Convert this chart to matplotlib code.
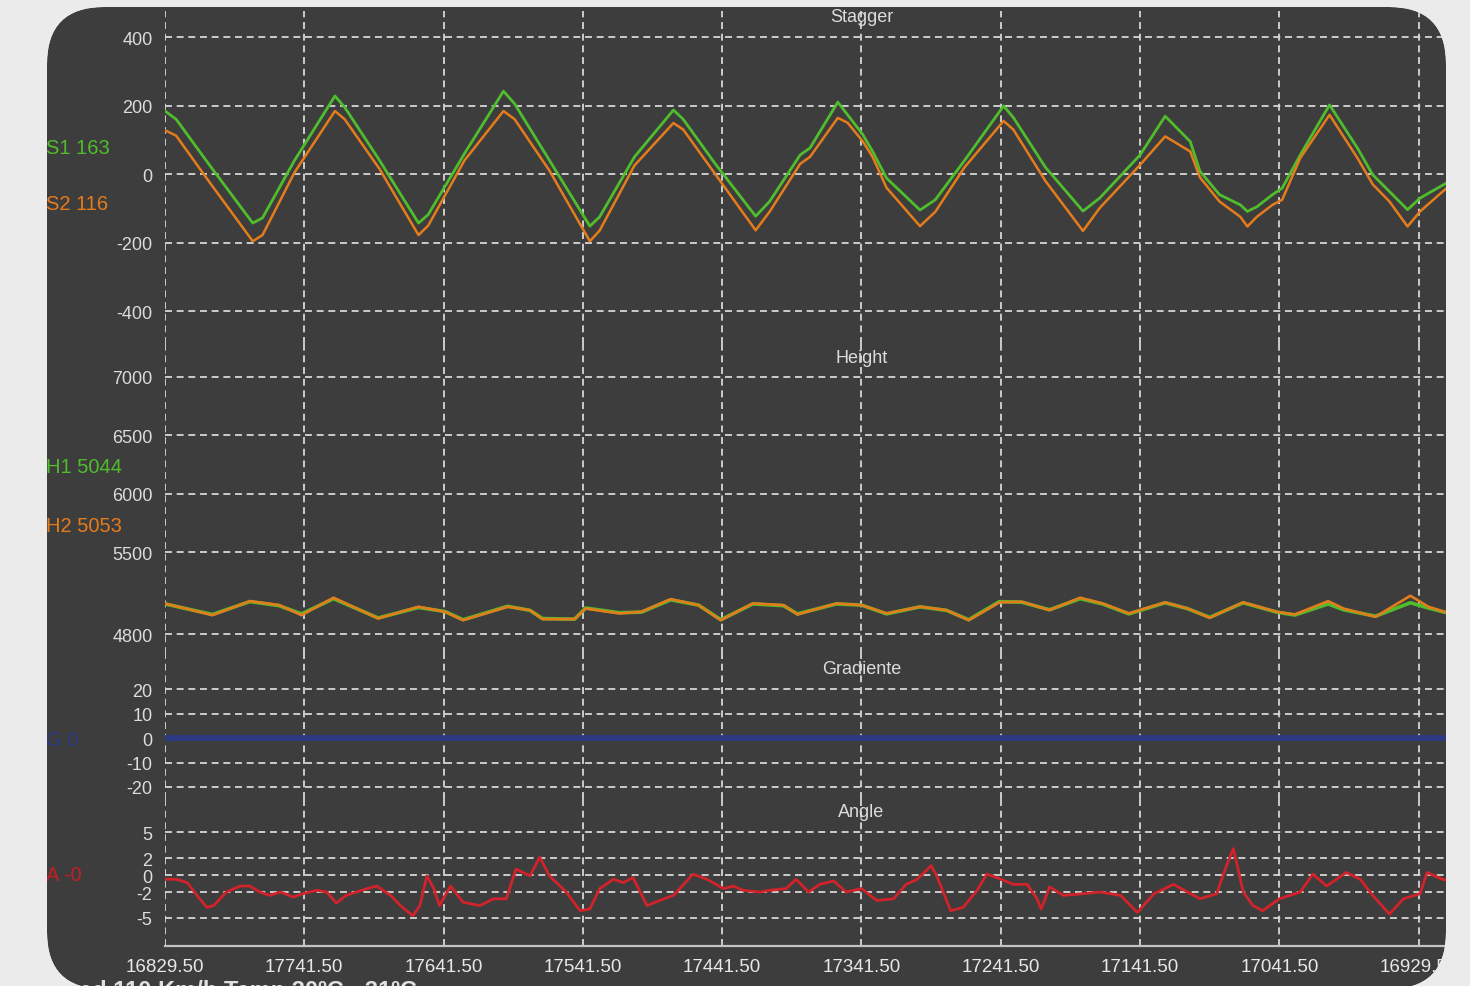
import numpy as np
import matplotlib.pyplot as plt
from matplotlib.patches import FancyBboxPatch, PathPatch
from matplotlib.path import Path
from matplotlib.transforms import IdentityTransform

plt.rcParams['font.family'] = ['Liberation Sans', 'DejaVu Sans']
plt.rcParams['lines.scale_dashes'] = False

# x is measured in grid divisions (0 = first labelled line)
x_labels = ['16829.50', '17741.50', '17641.50', '17541.50', '17441.50',
            '17341.50', '17241.50', '17141.50', '17041.50', '16929.50']

stag_x = [0.00, 0.08, 0.32, 0.63, 0.70, 0.93, 1.22, 1.29, 1.54, 1.82, 1.89, 2.15,
          2.43, 2.51, 2.76, 3.05, 3.12, 3.37, 3.65, 3.72, 3.95, 4.24, 4.34, 4.56,
          4.63, 4.83, 4.90, 5.01, 5.08, 5.18, 5.42, 5.53, 5.74, 6.02, 6.09, 6.32,
          6.59, 6.71, 7.00, 7.18, 7.36, 7.43, 7.57, 7.72, 7.77, 7.84, 7.95, 8.02,
          8.15, 8.36, 8.56, 8.67, 8.79, 8.92, 9.01, 9.20]
s1 = [184, 160, 26, -143, -128, 40, 228, 195, 40, -143, -118, 60,
      242, 205, 40, -152, -125, 50, 187, 160, 30, -123, -80, 56,
      76, 210, 173, 115, 66, -12, -105, -75, 40, 199, 165, 20,
      -108, -70, 56, 169, 95, 8, -60, -90, -109, -95, -60, -41,
      56, 202, 76, -2, -51, -104, -70, -26]
s2 = [128, 112, -24, -196, -178, 5, 184, 160, 15, -178, -150, 40,
      184, 160, 10, -196, -165, 25, 149, 130, 0, -164, -110, 30,
      50, 164, 150, 95, 50, -40, -152, -110, 20, 155, 130, -20,
      -166, -99, 27, 110, 66, -10, -80, -125, -153, -124, -90, -75,
      47, 173, 47, -30, -80, -153, -109, -41]

height_x = [0.00, 0.34, 0.61, 0.82, 0.98, 1.21, 1.53, 1.82, 2.01, 2.14, 2.46, 2.62,
            2.71, 2.94, 3.02, 3.26, 3.42, 3.63, 3.83, 3.99, 4.22, 4.44, 4.54, 4.82,
            5.00, 5.18, 5.42, 5.61, 5.77, 5.99, 6.15, 6.35, 6.57, 6.73, 6.92, 7.18,
            7.34, 7.50, 7.74, 7.98, 8.11, 8.35, 8.46, 8.69, 8.94, 9.07, 9.20]
h1 = [5060, 4970, 5080, 5045, 4975, 5105, 4940, 5030, 4995, 4925, 5040, 5005,
      4935, 4930, 5025, 4985, 4990, 5095, 5050, 4925, 5060, 5045, 4975, 5060,
      5050, 4975, 5035, 5005, 4925, 5080, 5075, 5010, 5105, 5060, 4975, 5070,
      5020, 4945, 5070, 4990, 4965, 5060, 5010, 4955, 5070, 5025, 4985]
h2 = [5064, 4964, 5084, 5050, 4964, 5113, 4936, 5036, 4993, 4921, 5036, 5007,
      4930, 4930, 5021, 4979, 4993, 5101, 5050, 4921, 5064, 5050, 4970, 5064,
      5050, 4979, 5036, 5007, 4921, 5073, 5079, 5007, 5113, 5064, 4979, 5073,
      5021, 4942, 5073, 4993, 4970, 5084, 5021, 4950, 5130, 5036, 4987]

grad_x = [0.0, 9.2]
grad = [0, 0]

angle_x = [0.00, 0.08, 0.16, 0.23, 0.30, 0.35, 0.44, 0.54, 0.61, 0.68, 0.75, 0.83,
           0.92, 0.99, 1.09, 1.16, 1.23, 1.30, 1.45, 1.52, 1.62, 1.69, 1.78, 1.83,
           1.88, 1.93, 1.97, 2.05, 2.14, 2.26, 2.36, 2.45, 2.52, 2.62, 2.69, 2.76,
           2.88, 2.98, 3.05, 3.12, 3.22, 3.29, 3.36, 3.46, 3.55, 3.65, 3.79, 3.89,
           4.01, 4.08, 4.15, 4.27, 4.34, 4.46, 4.53, 4.62, 4.70, 4.80, 4.89, 5.00,
           5.11, 5.23, 5.32, 5.40, 5.50, 5.54, 5.64, 5.73, 5.83, 5.90, 5.97, 6.09,
           6.19, 6.26, 6.29, 6.35, 6.45, 6.59, 6.71, 6.86, 6.98, 7.10, 7.24, 7.34,
           7.43, 7.55, 7.62, 7.67, 7.72, 7.74, 7.81, 7.88, 8.00, 8.15, 8.24, 8.34,
           8.48, 8.58, 8.67, 8.79, 8.89, 9.01, 9.06, 9.17, 9.20]
angle = [-0.5, -0.5, -0.9, -2.4, -3.8, -3.6, -2.0, -1.3, -1.3, -2.0, -2.4, -2.0,
         -2.6, -2.2, -1.8, -2.0, -3.3, -2.4, -1.6, -1.3, -2.4, -3.6, -4.8, -3.6,
         -0.1, -1.6, -3.6, -1.3, -3.2, -3.6, -2.8, -2.8, 0.7, -0.1, 2.1, -0.1,
         -2.0, -4.2, -4.0, -1.6, -0.5, -0.9, -0.3, -3.6, -3.0, -2.4, 0.1, -0.5,
         -1.6, -1.3, -1.8, -2.0, -1.8, -1.6, -0.5, -2.0, -1.1, -0.7, -2.0, -1.6,
         -3.0, -2.8, -1.1, -0.5, 1.1, -0.1, -4.2, -3.8, -1.8, 0.1, -0.3, -1.1,
         -1.1, -2.8, -4.0, -1.4, -2.4, -2.2, -2.0, -2.4, -4.4, -2.2, -1.1, -2.0,
         -2.8, -2.2, 1.1, 3.1, -0.5, -2.0, -3.6, -4.2, -2.8, -2.0, 0.1, -1.3,
         0.3, -0.5, -2.4, -4.6, -2.8, -2.2, 0.3, -0.5, -0.6]

panels = ['Stagger', 'Height', 'Gradiente', 'Angle']
stag_ticks = [400, 200, 0, -200, -400]
height_ticks = [7000, 6500, 6000, 5500, 4800]
grad_ticks = [20, 10, 0, -10, -20]
angle_ticks = [5, 2, 0, -2, -5]

BG = '#ebebeb'
PANEL = '#3d3d3d'
GRID = '#d6d6d6'
TXT = '#dcdcdc'
GREEN = '#4fbd2c'
ORANGE = '#e57c1c'

W, H = 1470, 987
fig = plt.figure(figsize=(W / 100, H / 100), dpi=100, facecolor=BG)

panel = FancyBboxPatch((47, -3), 1399, 982, boxstyle='round,pad=0,rounding_size=57',
                       transform=IdentityTransform(), facecolor=PANEL, edgecolor='none',
                       zorder=-5)
fig.patches.append(panel)

# light frame with a rounded hole, drawn over everything so the corners clip
inner = panel.get_path().to_polygons()[0]
x, y = inner[:, 0], inner[:, 1]
if 0.5 * np.sum(x * np.roll(y, -1) - np.roll(x, -1) * y) > 0:
    inner = inner[::-1]
outer = np.array([[-5, -5], [W + 5, -5], [W + 5, H + 5], [-5, H + 5], [-5, -5]])
verts = np.vstack([outer, inner, inner[:1]])
codes = ([Path.MOVETO] + [Path.LINETO] * 3 + [Path.CLOSEPOLY] +
         [Path.MOVETO] + [Path.LINETO] * (len(inner) - 1) + [Path.CLOSEPOLY])
frame = PathPatch(Path(verts, codes), transform=IdentityTransform(), facecolor=BG,
                  edgecolor='none', zorder=50)
fig.patches.append(frame)

left, right = 165 / W, 1446 / W
# pixel bands (top, bottom) and y limits for each strip
bands = [(12, 345), (345, 655), (655, 800), (800, 947)]
ylims = [(-496, 476), (4632, 7282), (-24.9, 34.3), (-8.35, 8.94)]
ticks = [stag_ticks, height_ticks, grad_ticks, angle_ticks]
title_y = [0.982, 0.958, 0.897, 0.918]

axes = []
for (top, bot), lim, tk, name, ty in zip(bands, ylims, ticks, panels, title_y):
    ax = fig.add_axes([left, 1 - bot / H, right - left, (bot - top) / H])
    ax.set_facecolor('none')
    ax.set_xlim(0, 9.196)
    ax.set_ylim(*lim)
    ax.set_yticks(tk)
    ax.set_yticklabels([str(t) for t in tk])
    ax.set_xticks(range(10))
    for s in ax.spines.values():
        s.set_visible(False)
    ax.tick_params(axis='both', length=0, colors=TXT, labelsize=13, pad=9)
    ax.tick_params(axis='x', labelbottom=False)
    ax.grid(True, color=GRID, linewidth=1.3, linestyle=(0, (5, 3.4)))
    ax.set_axisbelow(True)
    ax.text(5, ty, name, transform=ax.get_xaxis_transform(), ha='center', va='center',
            color=TXT, fontsize=13, zorder=1)
    axes.append(ax)

ax_s, ax_h, ax_g, ax_a = axes

ax_s.plot(stag_x, s1, color=GREEN, lw=2.0, zorder=3)
ax_s.plot(stag_x, s2, color=ORANGE, lw=1.8, zorder=3)

ax_h.plot(height_x, h1, color=GREEN, lw=2.6, zorder=3)
ax_h.plot(height_x, h2, color=ORANGE, lw=1.9, zorder=3)

ax_g.plot(grad_x, grad, color='#2c3a86', lw=4.2, solid_capstyle='butt', zorder=3)

ax_a.plot(angle_x, angle, color='#d2222a', lw=2.0, zorder=3)

ax_a.spines['bottom'].set_visible(True)
ax_a.spines['bottom'].set_color('#c4c4c4')
ax_a.spines['bottom'].set_linewidth(1.6)
ax_a.tick_params(axis='x', labelbottom=True, labelsize=13.5, pad=9, colors='#e8e8e8')
ax_a.set_xticklabels(x_labels)

legend_txt = [('S1 163', GREEN, 148), ('S2 116', ORANGE, 205), ('H1 5044', GREEN, 468),
              ('H2 5053', ORANGE, 527), ('G 0', '#2c3a86', 741), ('A -0', '#c41e24', 876)]
for s, c, yy in legend_txt:
    fig.text(46 / W, 1 - yy / H, s, color=c, fontsize=14.5, ha='left', va='center')

fig.text(36 / W, 1 - 980 / H, 'Speed 110 Km/h Temp 30ºC - 31ºC', color='#e0e0e0',
         fontsize=17, fontweight='bold', ha='left', va='top')

fig.savefig('out.png', dpi=100, facecolor=BG)
